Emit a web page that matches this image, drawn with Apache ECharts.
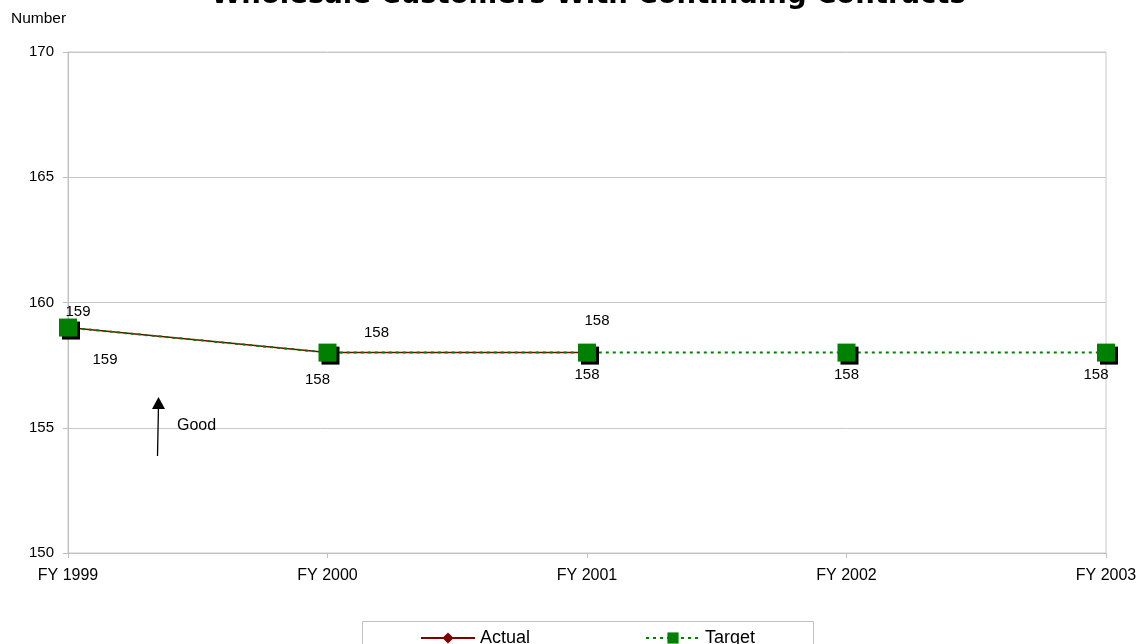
<!DOCTYPE html>
<html>
<head>
<meta charset="utf-8">
<script src="https://cdn.jsdelivr.net/npm/echarts@6/dist/echarts.min.js"></script>
<style>
  html, body { margin: 0; padding: 0; background: #fff; }
  #chart { width: 1148px; height: 644px; }
</style>
</head>
<body>
<div id="chart"></div>
<script>
// Fiscal years and yearly counts
const years = ['FY 1999', 'FY 2000', 'FY 2001', 'FY 2002', 'FY 2003'];
const actualValues = [159, 158, 158];
const targetValues = [159, 158, 158, 158, 158];
const yTicks = { min: 150, max: 170, step: 5 };

// Label offsets (pixels) for each point's value label
const actualLabelOffsets = [[10, -1], [49, -5], [10, -17]];
const targetLabelOffsets = [[37, 16], [-10, 11], [0, 6], [0, 6], [-10, 6]];

const FONT = 'Liberation Sans, Arial, sans-serif';
const labelFont = { fontFamily: FONT, fontSize: 15, color: '#000' };

function buildData(values, offsets) {
  return values.map((v, i) => ({
    value: v,
    label: { offset: offsets[i] }
  }));
}

const chart = echarts.init(document.getElementById('chart'));

chart.setOption({
  animation: false,
  backgroundColor: '#fff',
  title: {
    text: 'Wholesale Customers With Continuing Contracts',
    left: 211,
    top: -18,
    padding: 0,
    textStyle: {
      fontFamily: 'DejaVu Sans, sans-serif',
      fontWeight: 900,
      fontSize: 27.5,
      color: '#000',
      textShadowColor: 'rgba(0,0,0,0.25)',
      textShadowOffsetX: 1,
      textShadowOffsetY: 1,
      textShadowBlur: 0
    }
  },
  grid: {
    left: 68, right: 42, top: 52, bottom: 91, containLabel: false,
    show: true, borderColor: '#c8c8c8', borderWidth: 1
  },
  xAxis: {
    type: 'category',
    data: years,
    boundaryGap: false,
    axisLine: { lineStyle: { color: '#c0c0c0', width: 1 } },
    axisTick: { show: true, length: 5, lineStyle: { color: '#c0c0c0' } },
    axisLabel: { margin: 15, fontFamily: FONT, fontSize: 16, color: '#000' },
    splitLine: { show: false }
  },
  yAxis: {
    type: 'value',
    min: yTicks.min,
    max: yTicks.max,
    interval: yTicks.step,
    name: 'Number',
    nameLocation: 'end',
    nameGap: 0,
    nameTextStyle: { fontFamily: FONT, fontSize: 15.5, color: '#000', align: 'left', padding: [0, 0, 25, -57] },
    axisLine: { show: true, lineStyle: { color: '#c0c0c0', width: 1 } },
    axisTick: { show: true, length: 5, lineStyle: { color: '#c0c0c0' } },
    axisLabel: { margin: 14, fontFamily: FONT, fontSize: 15, color: '#000' },
    splitLine: { show: true, lineStyle: { color: '#c8c8c8', width: 1 } }
  },
  legend: [
    {
      data: ['Actual'],
      left: 420, top: 629, padding: 0,
      itemWidth: 54, itemHeight: 14, itemGap: 0,
      textStyle: { fontFamily: FONT, fontSize: 18, color: '#000' }
    },
    {
      data: ['Target'],
      left: 645, top: 629, padding: 0,
      itemWidth: 54, itemHeight: 14, itemGap: 0,
      textStyle: { fontFamily: FONT, fontSize: 18, color: '#000' }
    }
  ],
  graphic: [
    {
      type: 'rect',
      shape: { x: 362.5, y: 621.5, width: 451, height: 40 },
      style: { fill: 'none', stroke: '#c0c0c0', lineWidth: 1 },
      z: 0
    },
    {
      type: 'group',
      z: 100,
      children: [
        { type: 'line', z: 100, shape: { x1: 157.5, y1: 456, x2: 158.5, y2: 405 }, style: { stroke: '#000', lineWidth: 1.3 } },
        { type: 'polygon', z: 100, shape: { points: [[158.5, 397], [152, 409], [165, 409]] }, style: { fill: '#000' } },
        { type: 'text', z: 100, x: 177, y: 426, style: { text: 'Good', fontFamily: FONT, fontSize: 16, fill: '#000', verticalAlign: 'middle' } }
      ]
    }
  ],
  series: [
    {
      name: 'Actual',
      type: 'line',
      data: buildData(actualValues, actualLabelOffsets),
      symbol: 'diamond',
      symbolSize: 14,
      color: '#800000',
      lineStyle: { color: '#800000', width: 1.5 },
      itemStyle: { color: '#800000' },
      label: { show: true, position: 'top', distance: 0, ...labelFont },
      z: 2
    },
    {
      name: 'Target',
      type: 'line',
      data: buildData(targetValues, targetLabelOffsets),
      symbol: 'rect',
      symbolSize: 18,
      color: '#008000',
      lineStyle: { color: '#008000', width: 2, type: [3, 4] },
      itemStyle: { color: '#008000', shadowColor: '#000', shadowBlur: 0, shadowOffsetX: 3, shadowOffsetY: 3 },
      label: { show: true, position: 'bottom', distance: 0, ...labelFont },
      z: 3
    }
  ]
});
</script>
</body>
</html>
